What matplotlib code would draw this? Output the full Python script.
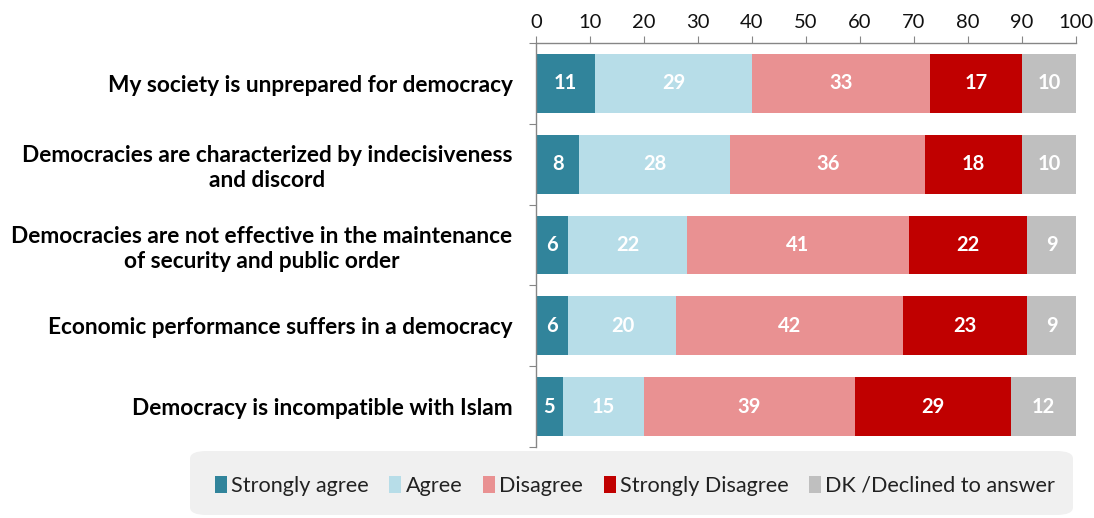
import matplotlib
matplotlib.use("Agg")
import matplotlib.pyplot as plt
from matplotlib.patches import FancyBboxPatch
import numpy as np

plt.rcParams['font.family'] = ['Lato', 'DejaVu Sans']

categories = [
    "My society is unprepared for democracy",
    "Democracies are characterized by indecisiveness\nand discord",
    "Democracies are not effective in the maintenance\nof security and public order",
    "Economic performance suffers in a democracy",
    "Democracy is incompatible with Islam",
]
series_names = ["Strongly agree", "Agree", "Disagree", "Strongly Disagree", "DK /Declined to answer"]
strongly_agree = [11, 8, 6, 6, 5]
agree = [29, 28, 22, 20, 15]
disagree = [33, 36, 41, 42, 39]
strongly_disagree = [17, 18, 22, 23, 29]
dk = [10, 10, 9, 9, 12]
colors = ["#31849B", "#B7DDE8", "#E99192", "#C00000", "#BFBFBF"]
xticks = [0, 10, 20, 30, 40, 50, 60, 70, 80, 90, 100]

fig = plt.figure(figsize=(10.94, 5.18), dpi=100)
ax = fig.add_axes([536/1094, 1-447/518, 540/1094, 404/518])

data = [strongly_agree, agree, disagree, strongly_disagree, dk]
y = np.arange(len(categories))
left = np.zeros(len(categories))
for vals, name, col in zip(data, series_names, colors):
    vals = np.array(vals, dtype=float)
    ax.barh(y, vals, left=left, height=0.73, color=col, label=name, edgecolor='none')
    for yi, v, l in zip(y, vals, left):
        ax.text(l + v/2, yi, f"{int(v)}", ha='center', va='center', color='white',
                fontsize=14.5, fontweight='bold')
    left += vals

ax.set_xlim(0, 100)
ax.set_ylim(len(categories)-0.5, -0.5)
ax.xaxis.tick_top()
ax.set_xticks(xticks)
ax.tick_params(axis='x', which='both', direction='out', length=5, color='#868686',
               labelsize=14.5, pad=4, labelcolor='#111111')
ax.set_yticks(np.arange(len(categories)+1) - 0.5, minor=False)
ax.set_yticklabels([])
ax.tick_params(axis='y', direction='out', length=5, color='#868686')
ax.set_yticks(y, minor=True)
ax.set_yticklabels(categories, minor=True, fontsize=16.3, fontweight='bold')
for lab in ax.get_yticklabels(minor=True):
    lab.set_horizontalalignment('right')
    lab.set_multialignment('center')
    lab.set_linespacing(1.25)
ax.tick_params(axis='y', which='minor', length=0, pad=17, labelcolor='#000000')

for s in ['right', 'bottom']:
    ax.spines[s].set_visible(False)
for s in ['top', 'left']:
    ax.spines[s].set_color('#868686')
    ax.spines[s].set_linewidth(1)

# legend background box
bg = FancyBboxPatch((190/1094, 3/518), 883/1094, 64/518,
                    boxstyle="round,pad=0,rounding_size=0.015",
                    transform=fig.transFigure, facecolor='#F0F0F0', edgecolor='none', zorder=0)
fig.patches.append(bg)
handles, labels = ax.get_legend_handles_labels()
fig.legend(handles, labels, loc='center', bbox_to_anchor=(635/1094, 32/518), ncol=5,
           frameon=False, fontsize=15.6, handlelength=0.55, handleheight=0.8,
           handletextpad=0.2, columnspacing=0.95, labelcolor='#222222')

fig.savefig("out.png", dpi=100)
